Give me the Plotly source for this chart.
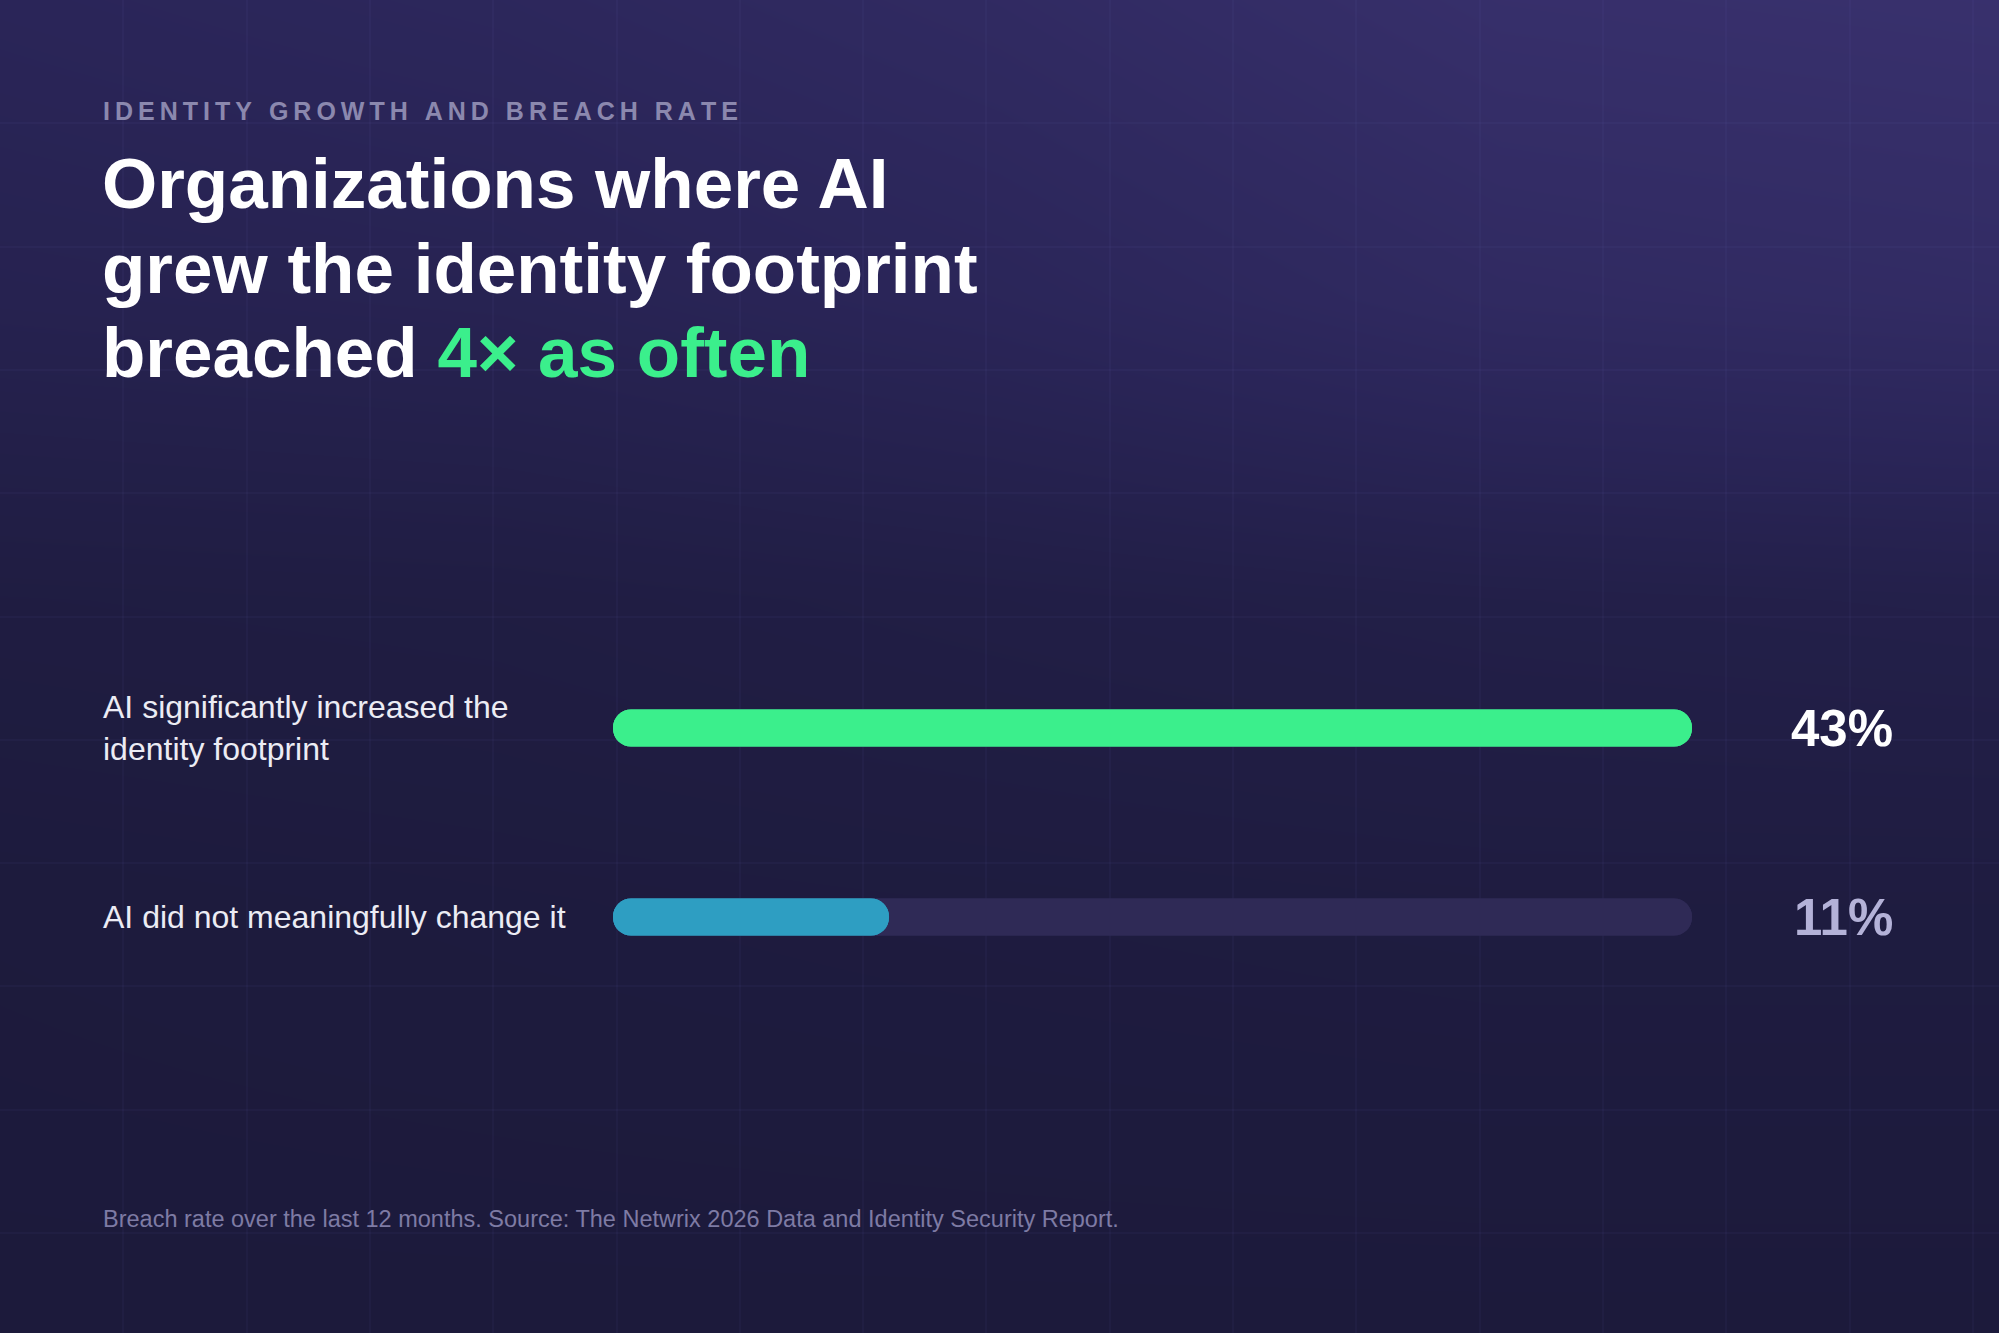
import plotly.graph_objects as go

# ---------------- data ----------------
categories = ["AI significantly increased the identity footprint",
              "AI did not meaningfully change it"]
label_text = ["AI significantly increased the<br>identity footprint",
              "AI did not meaningfully change it"]
values = [43, 11]
value_labels = ["43%", "11%"]
bar_colors = ["#3bef8c", "#2e9ec2"]
value_colors = ["#ffffff", "#b4b2d8"]
track_color = "#2f2a56"
track_max = max(values)

subtitle = "IDENTITY GROWTH AND BREACH RATE"
title_lines = ["Organizations where AI",
               "grew the identity footprint",
               "breached <span style='color:#3bef8c'>4× as often</span>"]
footnote = "Breach rate over the last 12 months. Source: The Netwrix 2026 Data and Identity Security Report."

# background glow (decoration)
bg_x = [0, 500, 1000, 1500, 1999]
bg_y = [0, 300, 600, 900, 1333]
bg_z = [[0.50, 0.58, 0.72, 0.92, 0.97],
        [0.36, 0.40, 0.52, 0.70, 0.76],
        [0.11, 0.13, 0.18, 0.23, 0.26],
        [0.03, 0.05, 0.07, 0.09, 0.09],
        [0.00, 0.00, 0.00, 0.00, 0.00]]

W, H = 1999, 1333
FONT = "Liberation Sans, Arial, Helvetica, sans-serif"


def px(x):
    return x / W


def py(y):
    return 1 - y / H


fig = go.Figure()

fig.add_trace(go.Heatmap(
    x=bg_x, y=bg_y, z=bg_z, zsmooth="best", showscale=False, hoverinfo="skip",
    colorscale=[[0, "#1c1a3b"], [0.5, "#2a2558"], [1, "#39316e"]],
    zmin=0, zmax=1, xaxis="x", yaxis="y"))

# empty trace so the grid subplot is drawn
fig.add_trace(go.Scatter(x=[None], y=[None], mode="lines", xaxis="x2", yaxis="y2",
                         hoverinfo="skip"))

# tracks (both ends rounded: forward + reverse bar)
fig.add_trace(go.Bar(y=categories, x=[track_max] * len(values), base=0, orientation="h",
                     marker=dict(color=track_color, cornerradius="50%", line=dict(width=0)),
                     width=0.196, xaxis="x3", yaxis="y3", hoverinfo="skip"))
fig.add_trace(go.Bar(y=categories, x=[-track_max] * len(values), base=[track_max] * len(values),
                     orientation="h",
                     marker=dict(color=track_color, cornerradius="50%", line=dict(width=0)),
                     width=0.196, xaxis="x3", yaxis="y3", hoverinfo="skip"))
# fills
fig.add_trace(go.Bar(y=categories, x=values, base=0, orientation="h",
                     marker=dict(color=bar_colors, cornerradius="50%", line=dict(width=0)),
                     width=0.196, xaxis="x3", yaxis="y3"))
fig.add_trace(go.Bar(y=categories, x=[-v for v in values], base=values, orientation="h",
                     marker=dict(color=bar_colors, cornerradius="50%", line=dict(width=0)),
                     width=0.196, xaxis="x3", yaxis="y3", hoverinfo="skip"))

annotations = []
spaced = "\u2009".join(list(subtitle))
annotations.append(dict(x=px(101), y=py(111), xref="paper", yref="paper", xanchor="left",
                        yanchor="middle", text=spaced, showarrow=False,
                        font=dict(family=FONT, size=25, color="#8b88ae", weight="bold")))
for i, (line, yc) in enumerate(zip(title_lines, [183, 268, 353])):
    annotations.append(dict(x=px(100), y=py(yc), xref="paper", yref="paper", xanchor="left",
                            yanchor="middle", text=line, showarrow=False,
                            font=dict(family=FONT, size=71, color="#ffffff", weight="bold")))
for cat, lab, val, col in zip(categories, label_text, value_labels, value_colors):
    annotations.append(dict(x=px(101), y=cat, xref="paper", yref="y3", xanchor="left",
                            yanchor="middle", align="left", text=lab, showarrow=False,
                            font=dict(family=FONT, size=32, color="#ececf4")))
    annotations.append(dict(x=px(1895), y=cat, xref="paper", yref="y3", xanchor="right",
                            yanchor="middle", text=val, showarrow=False,
                            font=dict(family=FONT, size=51, color=col, weight="bold")))
annotations.append(dict(x=px(101), y=py(1219), xref="paper", yref="paper", xanchor="left",
                        yanchor="middle", text=footnote, showarrow=False,
                        font=dict(family=FONT, size=23.5, color="#7e7ba4")))

grid_col = "rgba(140,130,230,0.045)"
fig.update_layout(
    width=W, height=H, margin=dict(l=0, r=0, t=0, b=0, pad=0),
    paper_bgcolor="#1d1b3d", plot_bgcolor="rgba(0,0,0,0)",
    showlegend=False, barmode="overlay",
    font=dict(family=FONT),
    xaxis=dict(domain=[0, 1], range=[0, W], visible=False, fixedrange=True),
    yaxis=dict(domain=[0, 1], range=[H, 0], visible=False, fixedrange=True),
    xaxis2=dict(domain=[0, 1], range=[0, W], anchor="y2", showgrid=True, tick0=0, dtick=123.3,
                gridcolor=grid_col, gridwidth=1.5, showticklabels=False, zeroline=False,
                showline=False, ticks="", fixedrange=True),
    yaxis2=dict(domain=[0, 1], range=[H, 0], anchor="x2", showgrid=True, tick0=0, dtick=123.3,
                gridcolor=grid_col, gridwidth=1.5, showticklabels=False, zeroline=False,
                showline=False, ticks="", fixedrange=True),
    xaxis3=dict(domain=[px(613), px(1692)], range=[0, track_max], anchor="y3", visible=False,
                fixedrange=True),
    yaxis3=dict(domain=[py(1011.5), py(633.5)], type="category", categoryorder="array",
                categoryarray=categories, range=[1.5, -0.5], anchor="x3", visible=False,
                fixedrange=True),
    annotations=annotations,
)

fig.write_html("out.html", config={"displayModeBar": False},
               post_script="document.body.style.margin='0';document.body.style.overflow='hidden';")
